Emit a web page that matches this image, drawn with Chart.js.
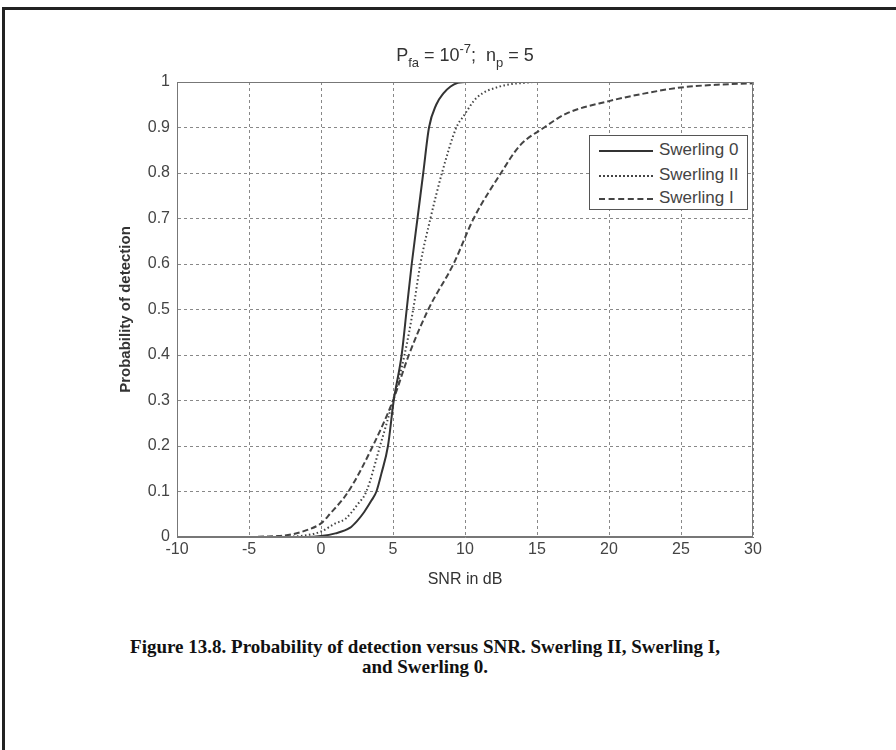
<!DOCTYPE html>
<html>
<head>
<meta charset="utf-8">
<script src="https://cdn.jsdelivr.net/npm/chart.js@4/dist/chart.umd.min.js"></script>
<style>
  body { margin: 0; background: #fff; width: 896px; height: 750px; overflow: hidden; position: relative; font-family: "Liberation Sans", Arial, sans-serif; }
  #frame { position: absolute; left: 2px; top: 7px; width: 1000px; height: 1000px; border-top: 3px solid #222; border-left: 3px solid #222; }
  #wrap { position: absolute; left: 0; top: 0; width: 896px; height: 600px; }
  #title { position: absolute; left: 265px; width: 400px; top: 45px; text-align: center; font-size: 18px; line-height: 20px; color: #333; }
  #title sub { font-size: 13px; vertical-align: baseline; position: relative; top: 6px; }
  #title sup { font-size: 13px; vertical-align: baseline; position: relative; top: -8px; }
  #legend { position: absolute; left: 589px; top: 135px; width: 157px; height: 73px; border: 1px solid #555; background: #fff; }
  .row { position: absolute; left: 9px; height: 20px; font-size: 17px; color: #444; }
  .row span.s { position: absolute; left: 0; top: 10px; width: 54px; height: 0; }
  .row span.t { position: absolute; left: 60px; top: 0; white-space: nowrap; line-height: 20px; }
  #caption { position: absolute; left: 25px; width: 800px; top: 637px; text-align: center; font-family: "Liberation Serif", "Times New Roman", serif; font-weight: bold; font-size: 19px; line-height: 20px; color: #111; }
</style>
</head>
<body>
<div id="frame"></div>
<div id="wrap"><canvas id="pdChart" width="896" height="600"></canvas></div>
<div id="title">P<sub>fa</sub> = 10<sup>-7</sup>;&nbsp; n<sub>p</sub> = 5</div>
<div id="legend">
  <div class="row" style="top:4px"><span class="s" style="border-top:2px solid #333"></span><span class="t">Swerling 0</span></div>
  <div class="row" style="top:29px"><span class="s" style="border-top:2px dotted #444"></span><span class="t">Swerling II</span></div>
  <div class="row" style="top:52px"><span class="s" style="border-top:2px dashed #444"></span><span class="t">Swerling I</span></div>
</div>
<div id="caption">Figure 13.8. Probability of detection versus SNR. Swerling II, Swerling I,<br>and Swerling 0.</div>
<script>
// values (SNR in dB -> probability of detection)
const snrSw0 = [-10, -5, -1, 0, 1, 2, 2.5, 3, 3.5, 3.85, 4.2, 4.65, 5.05, 5.6, 5.95, 6.3, 6.7, 7.1, 7.5, 8, 8.5, 9, 9.5, 10];
const pdSw0 = [0, 0, 0, 0.002, 0.008, 0.02, 0.035, 0.055, 0.08, 0.1, 0.14, 0.2, 0.3, 0.4, 0.5, 0.6, 0.7, 0.8, 0.9, 0.95, 0.975, 0.99, 0.998, 1];

const snrSw2 = [-10, -5, -2, -1, 0, 1, 1.7, 2.5, 3.15, 4.1, 5.0, 5.8, 6.4, 6.9, 7.6, 8.4, 9.4, 9.9, 10.8, 12.4, 14.7];
const pdSw2 = [0, 0, 0.001, 0.004, 0.012, 0.03, 0.04, 0.07, 0.1, 0.2, 0.3, 0.4, 0.5, 0.6, 0.7, 0.8, 0.9, 0.925, 0.965, 0.99, 1];

const snrSw1 = [-10, -5, -4, -3, -2, -1, 0, 0.6, 1.9, 3.6, 5.0, 6.1, 7.45, 9.2, 10.6, 12.5, 13.8, 15.5, 17, 20, 22.5, 25, 27.5, 30];
const pdSw1 = [0, 0, 0.001, 0.002, 0.006, 0.015, 0.03, 0.05, 0.1, 0.2, 0.3, 0.4, 0.5, 0.6, 0.7, 0.8, 0.86, 0.9, 0.93, 0.958, 0.975, 0.988, 0.994, 0.997];

const xTicks = [-10, -5, 0, 5, 10, 15, 20, 25, 30];
const yTicks = [0, 0.1, 0.2, 0.3, 0.4, 0.5, 0.6, 0.7, 0.8, 0.9, 1];

const toPts = (xs, ys) => xs.map((x, i) => ({ x: x, y: ys[i] }));

// box round the plot area, like matlab's "box on"
const boxPlugin = {
  id: "box",
  afterDraw(chart) {
    const a = chart.chartArea, ctx = chart.ctx;
    ctx.save();
    ctx.strokeStyle = "#777";
    ctx.lineWidth = 1;
    ctx.strokeRect(a.left + 0.5, a.top + 0.5, a.right - a.left - 1, a.bottom - a.top - 1);
    ctx.restore();
  }
};

const ctx = document.getElementById("pdChart").getContext("2d");
new Chart(ctx, {
  type: "scatter",
  data: {
    datasets: [
      { label: "Swerling 0", data: toPts(snrSw0, pdSw0), borderColor: "#333", borderWidth: 2 },
      { label: "Swerling II", data: toPts(snrSw2, pdSw2), borderColor: "#444", borderWidth: 2, borderDash: [1.5, 2.5] },
      { label: "Swerling I", data: toPts(snrSw1, pdSw1), borderColor: "#444", borderWidth: 2, borderDash: [6, 3] }
    ]
  },
  options: {
    responsive: false,
    animation: false,
    showLine: true,
    elements: {
      point: { radius: 0 },
      line: { cubicInterpolationMode: "monotone", fill: false }
    },
    layout: { padding: { left: 117, right: 143, top: 82, bottom: 0 } },
    plugins: { legend: { display: false }, tooltip: { enabled: false } },
    scales: {
      x: {
        type: "linear", min: -10, max: 30,
        afterBuildTicks: s => { s.ticks = xTicks.map(v => ({ value: v })); },
        afterFit: s => { s.height = 63; },
        grid: { color: "#888", drawTicks: false },
        border: { color: "#777", dash: [3, 3] },
        ticks: { padding: 3, color: "#444", font: { family: "Liberation Sans", size: 16 } },
        title: { display: true, text: "SNR in dB", color: "#333", padding: { top: 0, bottom: 11 }, font: { family: "Liberation Sans", size: 16 } }
      },
      y: {
        type: "linear", min: 0, max: 1,
        afterBuildTicks: s => { s.ticks = yTicks.map(v => ({ value: v })); },
        afterFit: s => { s.width = 60; },
        grid: { color: "#888", drawTicks: false },
        border: { color: "#777", dash: [3, 3] },
        ticks: { padding: 7, color: "#444", font: { family: "Liberation Sans", size: 16 }, callback: v => String(+v.toFixed(1)) },
        title: { display: true, text: "Probability of detection", color: "#333", padding: { top: 0, bottom: 0 }, font: { family: "Liberation Sans", size: 15, weight: "bold" } }
      }
    }
  },
  plugins: [boxPlugin]
});
</script>
</body>
</html>
